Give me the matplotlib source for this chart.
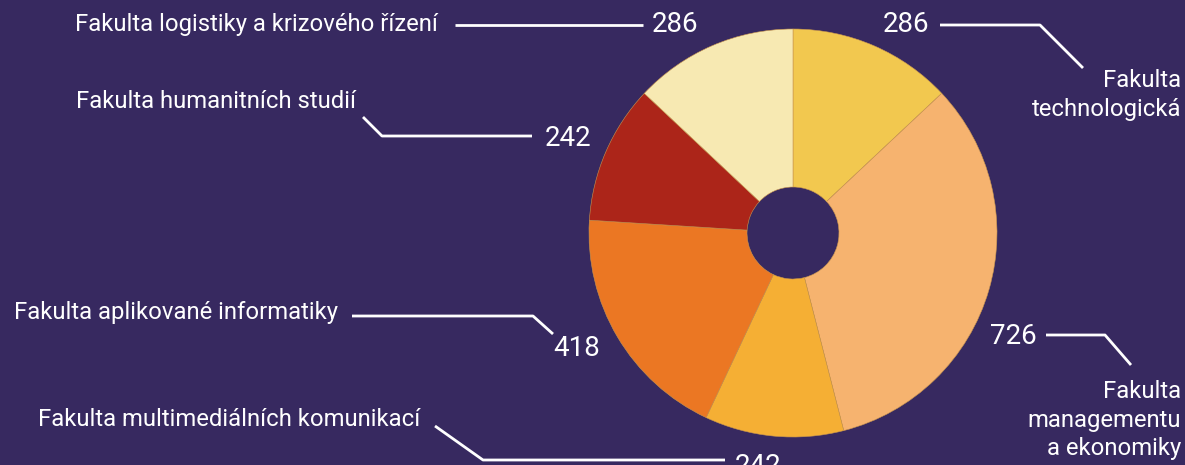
import matplotlib
matplotlib.use("Agg")
import matplotlib.pyplot as plt

# Data
faculties = [
    "Fakulta\ntechnologická",
    "Fakulta\nmanagementu\na ekonomiky",
    "Fakulta multimediálních komunikací",
    "Fakulta aplikované informatiky",
    "Fakulta humanitních studií",
    "Fakulta logistiky a krizového řízení",
]
counts = [286, 726, 242, 418, 242, 286]
colors = ["#F2C84F", "#F6B36F", "#F5AF34", "#EB7723", "#AC2519", "#F7E9B2"]

BG = "#372960"
W, H = 1185, 465

plt.rcParams['font.family'] = ['Roboto', 'DejaVu Sans']

fig = plt.figure(figsize=(W / 100, H / 100), dpi=100, facecolor=BG)
ax = fig.add_axes([0, 0, 1, 1])
ax.set_facecolor(BG)
ax.set_xlim(0, W)
ax.set_ylim(0, H)
ax.set_aspect("equal")
ax.axis("off")

def Y(py):
    return H - py

cx, cy, R, r_hole = 793, 233, 204, 46
ax.pie(counts, colors=colors, startangle=90, counterclock=False,
       center=(cx, Y(cy)), radius=R,
       wedgeprops=dict(width=R - r_hole, edgecolor="#C9964E", linewidth=0.4))
ax.set_xlim(0, W)
ax.set_ylim(0, H)

LW = 2.0
NUM_FS = 20
LAB_FS = 17.2

def line(pts):
    xs = [p[0] for p in pts]
    ys = [Y(p[1]) for p in pts]
    ax.plot(xs, ys, color="white", lw=LW, solid_capstyle="butt")

# 0: technologická
ax.text(929, Y(25), str(counts[0]), color="white", fontsize=NUM_FS, ha="right", va="center")
line([(940, 25), (1040, 25), (1083, 68)])
ax.text(1181, Y(95), faculties[0], color="white", fontsize=LAB_FS, ha="right", va="center",
        linespacing=1.3)

# 1: management
ax.text(990, Y(336), str(counts[1]), color="white", fontsize=NUM_FS, ha="left", va="center")
line([(1046, 335), (1105, 335), (1131, 365)])
ax.text(1181, Y(420), faculties[1], color="white", fontsize=LAB_FS, ha="right", va="center",
        linespacing=1.3)

# 2: multimedia
ax.text(38, Y(420), faculties[2], color="white", fontsize=LAB_FS, ha="left", va="center")
line([(435, 426), (483, 460), (725, 460)])
ax.text(735, Y(466), str(counts[2]), color="white", fontsize=NUM_FS, ha="left", va="center")

# 3: aplikované informatiky
ax.text(14, Y(312), faculties[3], color="white", fontsize=LAB_FS, ha="left", va="center")
line([(352, 316), (533, 316), (553, 334)])
ax.text(600, Y(349), str(counts[3]), color="white", fontsize=NUM_FS, ha="right", va="center")

# 4: humanitních
ax.text(76, Y(101), faculties[4], color="white", fontsize=LAB_FS, ha="left", va="center")
line([(363, 117), (382, 136), (532, 136)])
ax.text(545, Y(138), str(counts[4]), color="white", fontsize=NUM_FS, ha="left", va="center")

# 5: logistiky
ax.text(75, Y(25), faculties[5], color="white", fontsize=LAB_FS, ha="left", va="center")
line([(455, 25), (643, 25)])
ax.text(652, Y(25), str(counts[5]), color="white", fontsize=NUM_FS, ha="left", va="center")

fig.savefig("out.png", dpi=100, facecolor=BG)
